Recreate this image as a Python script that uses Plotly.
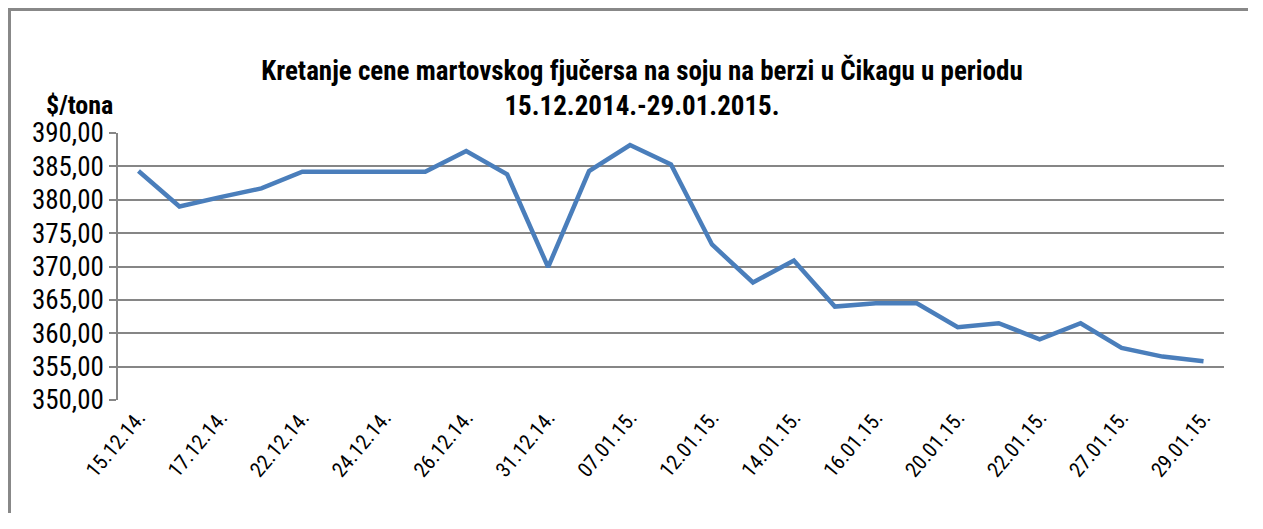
import plotly.graph_objects as go

dates = ["15.12.14.", "16.12.14.", "17.12.14.", "19.12.14.", "22.12.14.", "23.12.14.",
         "24.12.14.", "25.12.14.", "26.12.14.", "30.12.14.", "31.12.14.", "05.01.15.",
         "07.01.15.", "09.01.15.", "12.01.15.", "13.01.15.", "14.01.15.", "15.01.15.",
         "16.01.15.", "19.01.15.", "20.01.15.", "21.01.15.", "22.01.15.", "23.01.15.",
         "27.01.15.", "28.01.15.", "29.01.15."]
prices = [384.3, 379.0, 380.4, 381.7, 384.2, 384.2, 384.2, 384.2, 387.3, 383.8,
          369.9, 384.3, 388.2, 385.3, 373.3, 367.6, 370.9, 364.0, 364.5, 364.5,
          360.9, 361.5, 359.1, 361.5, 357.8, 356.5, 355.8]
y_ticks = [350, 355, 360, 365, 370, 375, 380, 385, 390]
y_ticktext = [("%.2f" % v).replace(".", ",") for v in y_ticks]

FONT = "Liberation Sans Narrow, Arial Narrow, Roboto Condensed, Liberation Sans, sans-serif"

# page body has an 8px margin on all sides; figure sized to fit the window without scrollbars
W, H = 1240, 505
L, T, PW, PH = 110, 125, 1106, 267

fx0 = (1.5 - L) / PW          # frame left edge (paper coords)
fy1 = 1 + (T - 1.5) / PH      # frame top edge (paper coords)

fig = go.Figure()
fig.add_trace(go.Scatter(x=dates, y=prices, mode="lines",
                         line=dict(color="#4A7EBB", width=4.5),
                         showlegend=False, hoverinfo="x+y"))

fig.update_layout(
    width=W, height=H,
    margin=dict(l=L, r=W - L - PW, t=T, b=H - T - PH),
    paper_bgcolor="white", plot_bgcolor="white",
    font=dict(family=FONT, color="black"),
    title=dict(text="<b>Kretanje cene martovskog fjučersa na soju na berzi u Čikagu u periodu<br>15.12.2014.-29.01.2015.</b>",
               x=(642 - 8) / W, xanchor="center", y=1 - (80 - 8) / H, yanchor="middle",
               font=dict(family=FONT, size=27, color="black")),
    xaxis=dict(type="category", categoryorder="array", categoryarray=dates,
               range=[-0.5, len(dates) - 0.5],
               tickmode="array", tickvals=dates[::2], ticktext=dates[::2],
               tickangle=-50, tickfont=dict(family=FONT, size=21, color="black"),
               showgrid=False, showline=False, ticks="", zeroline=False),
    yaxis=dict(range=[350, 390], tickmode="array", tickvals=y_ticks, ticktext=y_ticktext,
               tickfont=dict(family=FONT, size=27, color="black"),
               showgrid=True, gridcolor="#868686", gridwidth=1.5,
               showline=True, linecolor="#868686", linewidth=1.5,
               ticks="outside", ticklen=7, tickcolor="#868686", tickwidth=1.5,
               zeroline=False),
    shapes=[
        dict(type="line", xref="paper", yref="paper", x0=fx0 - 0.0014, x1=1.2, y0=fy1, y1=fy1,
             line=dict(color="#888888", width=3), layer="below"),
        dict(type="line", xref="paper", yref="paper", x0=fx0, x1=fx0, y0=-0.8, y1=fy1,
             line=dict(color="#888888", width=3), layer="below"),
    ],
    annotations=[dict(text="<b>$/tona</b>", xref="paper", yref="paper",
                      x=-3 / PW, y=1 + 28 / PH, xanchor="right", yanchor="middle",
                      showarrow=False, font=dict(family=FONT, size=26, color="black"))],
)

fig.write_html("out.html")
